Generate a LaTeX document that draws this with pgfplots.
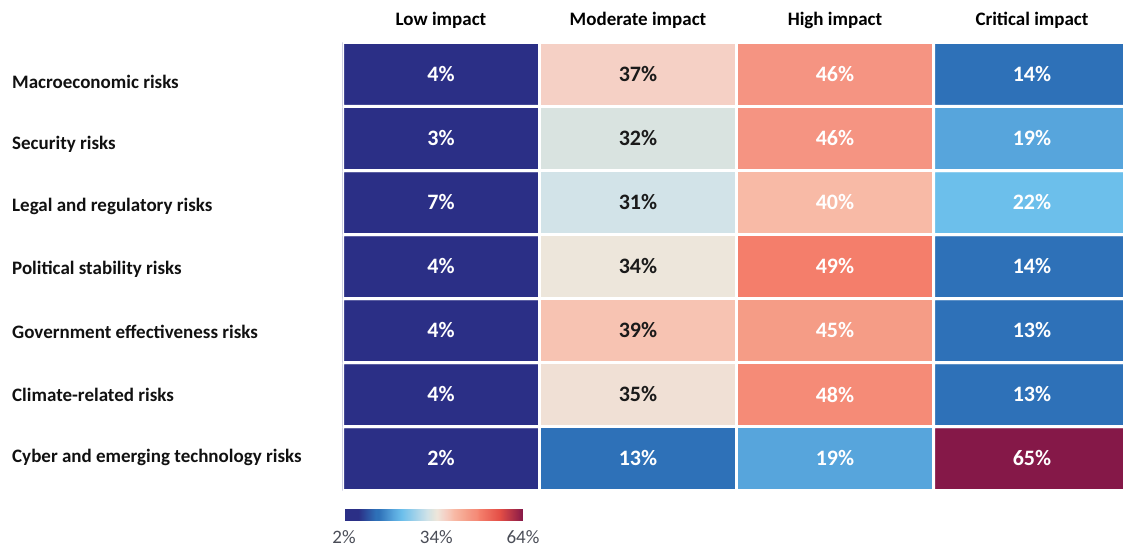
\documentclass[border=0pt]{standalone}
\usepackage{pgfplots}
\pgfplotsset{compat=1.18}
\usepackage{pgfplotstable}
\usepackage{fontspec}
\setmainfont{Carlito}

\definecolor{labelgray}{HTML}{4A4D57}
\definecolor{darktext}{HTML}{1A1A1A}
\definecolor{rowtext}{HTML}{111111}

% Share of respondents (%) per impact level.
% x: 0 = low, 1 = moderate, 2 = high, 3 = critical
% y: 0 = cyber (bottom row) ... 6 = macroeconomic (top row)
\pgfplotstableread{
x y v
0 0 2
1 0 13
2 0 19
3 0 65
0 1 4
1 1 35
2 1 48
3 1 13
0 2 4
1 2 39
2 2 45
3 2 13
0 3 4
1 3 34
2 3 49
3 3 14
0 4 7
1 4 31
2 4 40
3 4 22
0 5 3
1 5 32
2 5 46
3 5 19
0 6 4
1 6 37
2 6 46
3 6 14
}\impacttable

\begin{document}
\begin{tikzpicture}
\useasboundingbox (0,0) rectangle (1123pt,547pt);
\begin{axis}[
  at={(342.5pt,504.5pt)}, anchor=north west,
  scale only axis,
  x=197pt, y=64pt,
  xmin=-0.5, xmax=3.5, ymin=-0.5, ymax=6.5,
  axis line style={draw=none},
  major tick length=0pt,
  /pgf/number format/assume math mode=true,
  colormap={risk}{
    rgb255(2pt)=(43,47,134);
    rgb255(7pt)=(43,47,134);
    rgb255(13pt)=(46,113,184);
    rgb255(14pt)=(46,113,184);
    rgb255(19pt)=(87,165,220);
    rgb255(22pt)=(108,191,235);
    rgb255(31pt)=(210,227,232);
    rgb255(32pt)=(217,227,224);
    rgb255(34pt)=(237,230,219);
    rgb255(35pt)=(240,224,213);
    rgb255(37pt)=(245,208,197);
    rgb255(39pt)=(247,195,178);
    rgb255(40pt)=(248,186,166);
    rgb255(45pt)=(245,156,134);
    rgb255(46pt)=(245,148,130);
    rgb255(48pt)=(245,139,119);
    rgb255(49pt)=(244,126,107);
    rgb255(56pt)=(228,78,70);
    rgb255(64pt)=(133,24,72);
  },
  point meta min=2, point meta max=64,
  xtick={0,1,2,3},
  xticklabels={Low impact, Moderate impact, High impact, Critical impact},
  xticklabel pos=right,
  xticklabel style={font=\bfseries\fontsize{19}{22}\selectfont, text=black, yshift=10pt},
  ytick={0.017,0.996,1.975,2.954,3.933,4.912,5.891},
  yticklabels={Cyber and emerging technology risks, Climate-related risks,
    Government effectiveness risks, Political stability risks,
    Legal and regulatory risks, Security risks, Macroeconomic risks},
  yticklabel style={font=\bfseries\fontsize{19}{22}\selectfont, text=rowtext,
    anchor=west, inner sep=0pt, xshift=-330.5pt},
  colorbar horizontal,
  colorbar style={
    at={(0.0019,-0.0435)}, anchor=north west,
    scale only axis, width=179pt, height=11pt,
    axis line style={draw=none}, major tick length=0pt,
    /pgf/number format/assume math mode=true,
    xtick={2,34,64},
    xticklabel={\pgfmathprintnumber{\tick}\%},
    xticklabel style={font=\fontsize{19}{22}\selectfont, text=labelgray, yshift=-6pt},
  },
]
\addplot[matrix plot*, mesh/cols=4, mesh/rows=7, point meta=explicit,
  draw=white, line width=3pt] table[meta=v]{\impacttable};

% value labels: white on saturated cells
\addplot[draw=none, mark=none, point meta=explicit,
  x filter/.expression={(\thisrow{v}>29 && \thisrow{v}<40) ? nan : x},
  nodes near coords={\pgfmathprintnumber{\pgfplotspointmeta}\%},
  every node near coord/.append style={text=white, anchor=center,
    font=\bfseries\fontsize{22}{24}\selectfont},
] table[x=x, y=y, meta=v]{\impacttable};
% value labels: dark on pale cells
\addplot[draw=none, mark=none, point meta=explicit,
  x filter/.expression={(\thisrow{v}>29 && \thisrow{v}<40) ? x : nan},
  nodes near coords={\pgfmathprintnumber{\pgfplotspointmeta}\%},
  every node near coord/.append style={text=darktext, anchor=center,
    font=\bfseries\fontsize{22}{24}\selectfont},
] table[x=x, y=y, meta=v]{\impacttable};
\end{axis}
\end{tikzpicture}
\end{document}
